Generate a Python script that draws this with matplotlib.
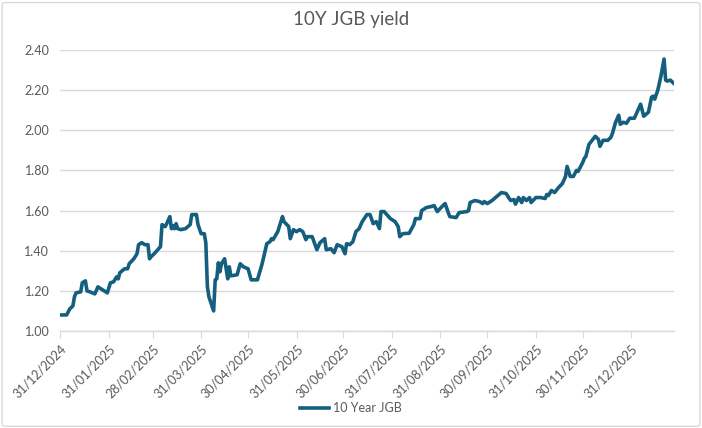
import matplotlib.pyplot as plt
import matplotlib.dates as mdates
from matplotlib.patches import FancyBboxPatch
import pandas as pd

# days after 31/12/2024 and the 10Y JGB yield (%)
day_offset = [0, 4, 6, 8, 9, 10, 13, 14, 16, 17, 19, 22, 24, 27, 30, 32, 34, 36, 37, 38,
              41, 43, 44, 47, 49, 50, 52, 54, 56, 57, 58, 60, 64, 65, 67, 68, 70, 71, 72, 73,
              74, 75, 77, 80, 83, 84, 87, 88, 90, 92, 93, 94, 95, 98, 99, 100, 101, 102, 103, 105,
              107, 108, 109, 113, 115, 117, 120, 122, 126, 129, 132, 134, 135, 136, 139, 142, 143, 146, 147, 149,
              151, 153, 155, 157, 158, 161, 164, 166, 169, 170, 173, 175, 177, 180, 182, 183, 185, 187, 189, 191,
              193, 196, 198, 200, 202, 204, 205, 207, 211, 214, 216, 217, 219, 223, 226, 227, 230, 231, 234, 237,
              239, 241, 244, 246, 248, 249, 253, 255, 260, 261, 262, 265, 268, 270, 271, 273, 276, 279, 282, 285,
              287, 288, 290, 291, 293, 295, 296, 298, 300, 301, 304, 307, 310, 311, 312, 314, 316, 318, 321, 323,
              324, 326, 328, 330, 331, 334, 335, 336, 338, 340, 342, 344, 345, 347, 350, 352, 353, 355, 357, 358,
              360, 362, 364, 367, 369, 371, 373, 376, 378, 379, 380, 382, 384, 386, 387, 388, 390, 392]
jgb_10y = [1.08, 1.08, 1.11, 1.125, 1.17, 1.19, 1.195, 1.24, 1.25, 1.20, 1.195, 1.185, 1.22, 1.205, 1.19, 1.24, 1.245, 1.27, 1.26, 1.29,
           1.31, 1.31, 1.335, 1.36, 1.385, 1.43, 1.44, 1.43, 1.43, 1.36, 1.37, 1.385, 1.42, 1.53, 1.52, 1.535, 1.57, 1.51, 1.525, 1.51,
           1.535, 1.51, 1.505, 1.51, 1.53, 1.58, 1.58, 1.53, 1.485, 1.485, 1.44, 1.22, 1.17, 1.10, 1.255, 1.26, 1.34, 1.295, 1.335, 1.36,
           1.26, 1.32, 1.275, 1.28, 1.335, 1.32, 1.31, 1.255, 1.255, 1.335, 1.435, 1.445, 1.46, 1.455, 1.495, 1.57, 1.545, 1.52, 1.46, 1.505,
           1.495, 1.505, 1.495, 1.455, 1.47, 1.47, 1.405, 1.44, 1.46, 1.405, 1.41, 1.39, 1.43, 1.42, 1.385, 1.435, 1.43, 1.445, 1.495, 1.51,
           1.545, 1.58, 1.58, 1.535, 1.545, 1.51, 1.595, 1.595, 1.56, 1.545, 1.52, 1.47, 1.485, 1.487, 1.53, 1.56, 1.56, 1.60, 1.615, 1.62,
           1.625, 1.595, 1.62, 1.635, 1.59, 1.57, 1.565, 1.59, 1.595, 1.60, 1.64, 1.65, 1.645, 1.635, 1.645, 1.635, 1.65, 1.67, 1.69, 1.685,
           1.66, 1.65, 1.655, 1.632, 1.665, 1.64, 1.665, 1.65, 1.665, 1.64, 1.665, 1.665, 1.66, 1.68, 1.675, 1.70, 1.69, 1.71, 1.735, 1.77,
           1.82, 1.77, 1.77, 1.80, 1.795, 1.84, 1.86, 1.87, 1.93, 1.95, 1.97, 1.955, 1.92, 1.95, 1.95, 1.965, 1.985, 2.04, 2.075, 2.03,
           2.04, 2.035, 2.06, 2.06, 2.095, 2.13, 2.07, 2.09, 2.165, 2.17, 2.155, 2.20, 2.27, 2.355, 2.25, 2.245, 2.25, 2.235]
tick_dates = ['2024-12-31', '2025-01-31', '2025-02-28', '2025-03-31', '2025-04-30', '2025-05-31', '2025-06-30',
              '2025-07-31', '2025-08-31', '2025-09-30', '2025-10-31', '2025-11-30', '2025-12-31']
y_ticks = [1.00, 1.20, 1.40, 1.60, 1.80, 2.00, 2.20, 2.40]

start = pd.Timestamp('2024-12-31')
dates = start + pd.to_timedelta(day_offset, unit='D')
ticks = pd.to_datetime(tick_dates)

text_grey = '#595959'
line_blue = '#155F7E'
plt.rcParams['font.family'] = ['Lato', 'DejaVu Sans']

fig = plt.figure(figsize=(7.02, 4.28), dpi=100)
ax = fig.add_axes([0.086, 0.2266, 0.874, 0.6566])

ax.plot(dates, jgb_10y, color=line_blue, linewidth=2.6, solid_joinstyle='round',
        label='10 Year JGB')

ax.set_ylim(1.0, 2.4)
ax.set_yticks(y_ticks)
ax.set_yticklabels([f'{v:.2f}' for v in y_ticks])
ax.set_xlim(start, start + pd.Timedelta(days=392.3))
ax.set_xticks(ticks)
ax.set_xticklabels([d.strftime('%d/%m/%Y') for d in ticks], rotation=45,
                   ha='right', rotation_mode='anchor')

ax.grid(axis='y', color='#D9D9D9', linewidth=1)
ax.set_axisbelow(True)
for side in ['left', 'right', 'top']:
    ax.spines[side].set_visible(False)
ax.spines['bottom'].set_color('#D9D9D9')
ax.spines['bottom'].set_linewidth(1)
ax.tick_params(axis='y', length=0, pad=8, labelsize=9, labelcolor=text_grey)
ax.tick_params(axis='x', length=5, color='#D9D9D9', pad=3, labelsize=9, labelcolor=text_grey)

fig.text(0.5, 0.955, '10Y JGB yield', ha='center', va='center', fontsize=13.5, color=text_grey)
fig.legend(loc='center', bbox_to_anchor=(0.5, 0.047), frameon=False, fontsize=9,
           labelcolor=text_grey, handlelength=2.3, handletextpad=0.3)

fig.patches.append(FancyBboxPatch((0.003, 0.004), 0.994, 0.99, boxstyle='round,pad=0,rounding_size=0.005',
                                  transform=fig.transFigure, fill=False, edgecolor='#D9D9D9', linewidth=1))

fig.savefig('out.png', dpi=100)
